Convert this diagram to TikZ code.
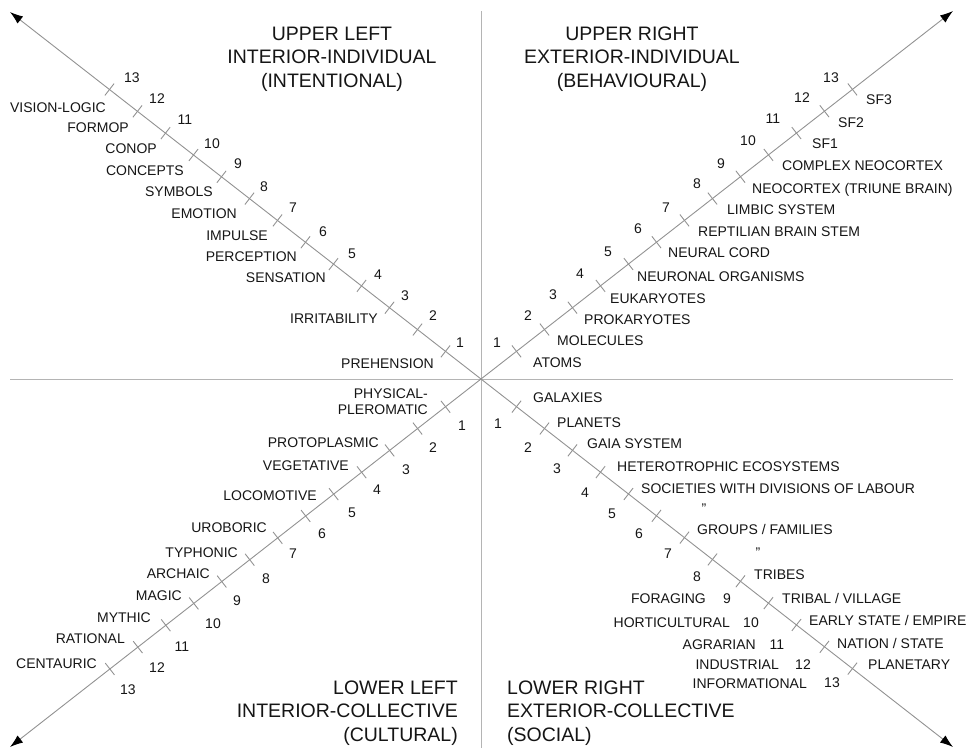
\documentclass[tikz,border=0pt]{standalone}
\usepackage{fontspec}
\setmainfont{Liberation Sans}
\usetikzlibrary{calc,arrows.meta}
\definecolor{txt}{HTML}{151515}
\definecolor{axis}{HTML}{B4B4B4}
\definecolor{diag}{HTML}{929292}
\begin{document}
\begin{tikzpicture}[x=1pt,y=-1pt,
  lab/.style={inner sep=0pt,text=txt,font=\fontsize{14}{16}\selectfont,text height=10pt,text depth=0pt},
  labL/.style={lab,anchor=east},
  labR/.style={lab,anchor=west},
  num/.style={lab,anchor=center},
  title/.style={inner sep=0pt,text=txt,font=\fontsize{19.5}{23.5}\selectfont},
  axisline/.style={draw=axis,line width=1pt},
  diagline/.style={draw=diag,line width=0.9pt,-{Latex[length=13pt,width=9pt,black]}},
  tickmark/.style={draw=diag,line width=0.9pt}]
\useasboundingbox (0,0) rectangle (976,748);
\coordinate (c) at (481,379);
\coordinate (ul) at (10,12);
\coordinate (ur) at (953,11);
\coordinate (ll) at (10,747);
\coordinate (lr) at (953,747);
\coordinate (axL) at (10,379);
\coordinate (axR) at (953,379);
\coordinate (axT) at (481,11);
\coordinate (axB) at (481,748);
% axes
\draw[axisline] (axL) -- (axR);
\draw[axisline] (axT) -- (axB);
% diagonals
\foreach \cn in {ul,ur,ll,lr}{
  \draw[diagline] (c) -- (\cn);
  \foreach \k in {1,...,13}{
    \pgfmathsetmacro\dd{9.5+35.5*\k}
    \coordinate (\cn\k) at ($(c)!\dd pt!(\cn)$);
    \draw[tickmark] ($(\cn\k)!7.5pt!90:(c)$) -- ($(\cn\k)!7.5pt!-90:(c)$);
  }
}
% titles
\node[title,align=center] (tUL) at (332,59) {UPPER LEFT\\INTERIOR-INDIVIDUAL\\(INTENTIONAL)};
\node[title,align=center] (tUR) at (632,59) {UPPER RIGHT\\EXTERIOR-INDIVIDUAL\\(BEHAVIOURAL)};
\node[title,align=right,anchor=east] (tLL) at (458,713) {LOWER LEFT\\INTERIOR-COLLECTIVE\\(CULTURAL)};
\node[title,align=left,anchor=west] (tLR) at (507,713) {LOWER RIGHT\\EXTERIOR-COLLECTIVE\\(SOCIAL)};
% upper left numbers
\foreach \k/\x/\y in {13/132/77,12/157/98,11/185/119,10/212/143,9/238/163,8/264/186,7/293/207,6/323/231,5/352/253,4/378/274,3/405/295,2/433/315,1/460/342}
  \node[num] (nUL\k) at (\x,\y) {\k};
% upper left labels
\node[labL] (a1) at (106,107) {VISION-LOGIC};
\node[labL] (a2) at (129,127) {FORMOP};
\node[labL] (a3) at (157,148) {CONOP};
\node[labL] (a4) at (184,170) {CONCEPTS};
\node[labL] (a5) at (213,191) {SYMBOLS};
\node[labL] (a6) at (237,213) {EMOTION};
\node[labL] (a7) at (268,235) {IMPULSE};
\node[labL] (a8) at (297,256) {PERCEPTION};
\node[labL] (a9) at (326,277) {SENSATION};
\node[labL] (a10) at (378,318) {IRRITABILITY};
\node[labL] (a11) at (434,363) {PREHENSION};
% upper right numbers
\foreach \k/\x/\y in {13/831/77,12/802/97,11/773/118,10/748/140,9/721/163,8/697/183,7/666/207,6/638/228,5/608/251,4/580/273,3/553/294,2/528/315,1/497/342}
  \node[num] (nUR\k) at (\x,\y) {\k};
% upper right labels
\node[labR] (b1) at (866,99) {SF3};
\node[labR] (b2) at (838,122) {SF2};
\node[labR] (b3) at (812,143) {SF1};
\node[labR] (b4) at (782,165) {COMPLEX NEOCORTEX};
\node[labR] (b5) at (752,188) {NEOCORTEX (TRIUNE BRAIN)};
\node[labR] (b6) at (727,209) {LIMBIC SYSTEM};
\node[labR] (b7) at (698,231) {REPTILIAN BRAIN STEM};
\node[labR] (b8) at (668,252) {NEURAL CORD};
\node[labR] (b9) at (637,276) {NEURONAL ORGANISMS};
\node[labR] (b10) at (610,298) {EUKARYOTES};
\node[labR] (b11) at (584,319) {PROKARYOTES};
\node[labR] (b12) at (557,340) {MOLECULES};
\node[labR] (b13) at (533,362) {ATOMS};
% lower left numbers
\foreach \k/\x/\y in {1/462/425,2/433/447,3/406/469,4/377/489,5/352/512,6/322/533,7/293/553,8/266/578,9/237/600,10/213/623,11/182/646,12/157/667,13/128/689}
  \node[num] (nLL\k) at (\x,\y) {\k};
% lower left labels
\node[lab,anchor=east,align=right,text height=,text depth=,font=\fontsize{14}{16}\selectfont] (c1) at (428,402) {PHYSICAL-\\PLEROMATIC};
\node[labL] (c2) at (379,442) {PROTOPLASMIC};
\node[labL] (c3) at (349,465) {VEGETATIVE};
\node[labL] (c4) at (317,495) {LOCOMOTIVE};
\node[labL] (c5) at (267,527) {UROBORIC};
\node[labL] (c6) at (238,552) {TYPHONIC};
\node[labL] (c7) at (210,573) {ARCHAIC};
\node[labL] (c8) at (182,595) {MAGIC};
\node[labL] (c9) at (151,617) {MYTHIC};
\node[labL] (c10) at (125,638) {RATIONAL};
\node[labL] (c11) at (97,663) {CENTAURIC};
% lower right numbers
\foreach \k/\x/\y in {1/498/423,2/528/447,3/557/468,4/585/492,5/612/513,6/639/533,7/668/553,8/697/576,9/727/598,10/751/622,11/777/644,12/803/664,13/832/682}
  \node[num] (nLR\k) at (\x,\y) {\k};
% lower right labels (right of axis)
\node[labR] (d1) at (533,397) {GALAXIES};
\node[labR] (d2) at (557,422) {PLANETS};
\node[labR] (d3) at (587,443) {GAIA SYSTEM};
\node[labR] (d4) at (617,466) {HETEROTROPHIC ECOSYSTEMS};
\node[labR] (d5) at (641,488) {SOCIETIES WITH DIVISIONS OF LABOUR};
\node[num] (d6) at (704,508) {"};
\node[labR] (d7) at (697,529) {GROUPS / FAMILIES};
\node[num] (d8) at (758,552) {"};
\node[labR] (d9) at (754,574) {TRIBES};
\node[labR] (d10) at (782,598) {TRIBAL / VILLAGE};
\node[labR] (d11) at (809,620) {EARLY STATE / EMPIRE};
\node[labR] (d12) at (837,643) {NATION / STATE};
\node[labR] (d13) at (868,664) {PLANETARY};
% lower right labels (left of axis)
\node[labL] (e1) at (706,598) {FORAGING};
\node[labL] (e2) at (730,622) {HORTICULTURAL};
\node[labL] (e3) at (756,644) {AGRARIAN};
\node[labL] (e4) at (779,664) {INDUSTRIAL};
\node[labL] (e5) at (807,683) {INFORMATIONAL};
\end{tikzpicture}
\end{document}
